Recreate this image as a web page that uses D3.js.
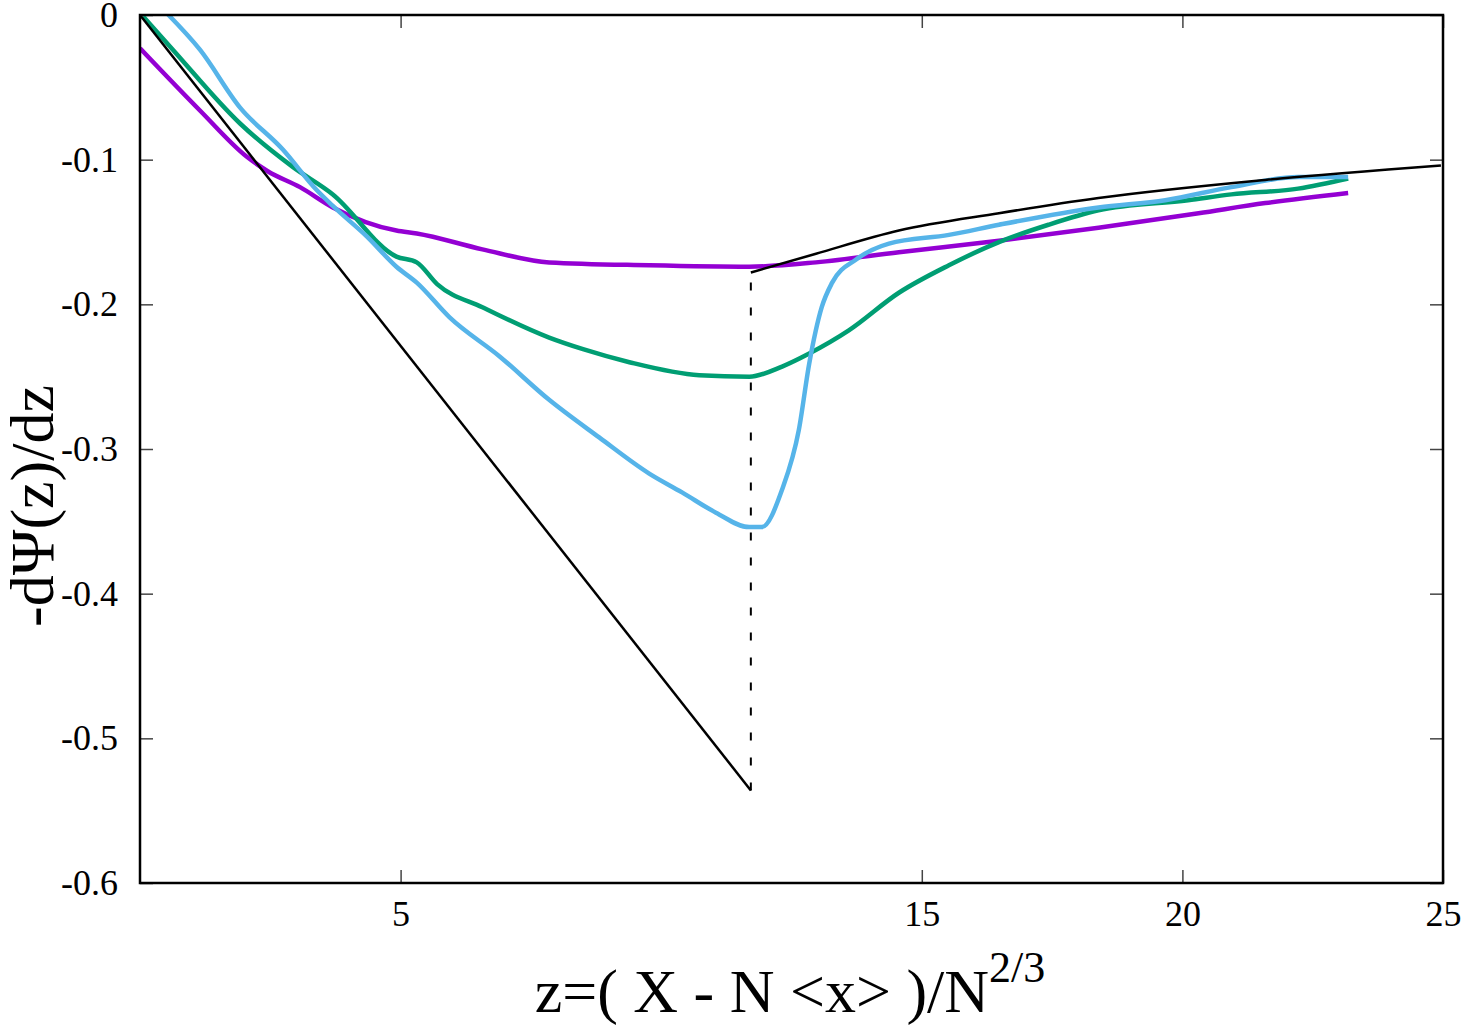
<!DOCTYPE html>
<html>
<head>
<meta charset="utf-8">
<script src="https://cdn.jsdelivr.net/npm/d3@7"></script>
<style>
  body { margin: 0; background: #fff; }
</style>
</head>
<body>
<div id="chart"></div>
<script>
// tick values
const xTicks = [5, 15, 20, 25];
const yTicks = [0, -0.1, -0.2, -0.3, -0.4, -0.5, -0.6];

// purple series (z, -dPsi/dz)
const purpleZ = [0, 1.15, 2.05, 2.45, 3.07, 3.70, 4.92, 5.31, 6.57, 7.85, 9.77, 11.69, 12.97, 14.56, 16.48, 18.39, 20.31, 21.59, 23.18];
const purpleV = [-0.023, -0.066, -0.098, -0.108, -0.119, -0.133, -0.149, -0.151, -0.162, -0.171, -0.173, -0.174, -0.171, -0.164, -0.156, -0.147, -0.137, -0.130, -0.123];

// green series
const greenZ = [0.06, 0.63, 1.92, 2.93, 3.70, 4.92, 5.31, 5.70, 6.57, 7.85, 8.50, 9.39, 10.73, 11.69, 12.32, 12.84, 13.60, 14.56, 15.52, 16.48, 17.43, 18.39, 20.11, 20.94, 22.22, 23.18];
const greenV = [-0.001, -0.024, -0.075, -0.105, -0.124, -0.167, -0.171, -0.186, -0.202, -0.223, -0.231, -0.240, -0.249, -0.250, -0.243, -0.234, -0.218, -0.192, -0.173, -0.157, -0.145, -0.135, -0.128, -0.124, -0.120, -0.113];

// light blue series
const blueZ = [0.52, 1.15, 1.92, 2.74, 3.39, 3.70, 4.35, 4.92, 5.31, 5.94, 6.90, 7.85, 8.81, 9.77, 10.40, 11.05, 11.69, 11.93, 12.32, 12.64, 12.84, 13.08, 13.28, 13.74, 14.37, 15.52, 16.48, 18.39, 19.67, 20.94, 22.22, 23.18];
const blueV = [0.001, -0.024, -0.064, -0.093, -0.121, -0.132, -0.153, -0.174, -0.185, -0.209, -0.236, -0.266, -0.292, -0.317, -0.330, -0.344, -0.354, -0.354, -0.328, -0.287, -0.241, -0.202, -0.185, -0.169, -0.158, -0.152, -0.145, -0.133, -0.128, -0.119, -0.112, -0.112];

// black reference lines
const lineZ = [0, 11.72];
const lineV = [0, -0.536];
const curveZ = [11.72, 12.97, 14.56, 16.48, 18.39, 21.59, 24.96];
const curveV = [-0.178, -0.165, -0.149, -0.137, -0.1265, -0.114, -0.104];
const dashZ = [11.72, 11.72];
const dashV = [-0.536, -0.178];

const cfg = {
    width: 1463,
    height: 1025,
    margin: { top: 15, right: 20, bottom: 142, left: 140 },
    tickLen: 13,
    font: "'Liberation Serif', 'DejaVu Serif', serif"
};

const width = cfg.width - cfg.margin.left - cfg.margin.right;
const height = cfg.height - cfg.margin.top - cfg.margin.bottom;

const x = d3.scaleLinear().domain([0, 25]).range([0, width]);
const y = d3.scaleLinear().domain([-0.6, 0]).range([height, 0]);

const svg = d3.select("#chart")
    .append("svg")
    .attr("width", cfg.width)
    .attr("height", cfg.height);

const g = svg.append("g")
    .attr("transform", "translate(" + cfg.margin.left + "," + cfg.margin.top + ")");

g.append("clipPath").attr("id", "plot-clip")
    .append("rect").attr("width", width).attr("height", height);

// axes, ticks point inwards like gnuplot
const styleAxis = (sel) => {
    sel.attr("font-family", null).attr("font-size", null);
    sel.select(".domain").remove();
    sel.selectAll(".tick line").attr("stroke", "#444").attr("stroke-width", 1.5);
    sel.selectAll(".tick text").attr("fill", "#000").style("font-size", "36px");
};

const fmt = (d) => d === 0 ? "0" : String(d);

g.append("g")
    .attr("transform", "translate(0," + height + ")")
    .call(d3.axisBottom(x).tickValues(xTicks).tickSize(-cfg.tickLen).tickPadding(17).tickFormat(fmt))
    .call(styleAxis);

g.append("g")
    .call(d3.axisTop(x).tickValues(xTicks).tickSize(-cfg.tickLen).tickFormat(""))
    .call(styleAxis);

g.append("g")
    .call(d3.axisLeft(y).tickValues(yTicks).tickSize(-cfg.tickLen).tickPadding(22).tickFormat(fmt))
    .call(styleAxis);

g.append("g")
    .attr("transform", "translate(" + width + ",0)")
    .call(d3.axisRight(y).tickValues(yTicks).tickSize(-cfg.tickLen).tickFormat(""))
    .call(styleAxis);

// data lines
const line = d3.line()
    .x((d) => x(d[0]))
    .y((d) => y(d[1]))
    .curve(d3.curveMonotoneX);

const zip = (a, b) => a.map((v, i) => [v, b[i]]);

const plot = g.append("g").attr("clip-path", "url(#plot-clip)");

const series = [
    { z: purpleZ, v: purpleV, color: "#9400d3" },
    { z: greenZ, v: greenV, color: "#009e73" },
    { z: blueZ, v: blueV, color: "#56b4e9" }
];

series.forEach((s) => {
    plot.append("path")
        .datum(zip(s.z, s.v))
        .attr("fill", "none")
        .attr("stroke", s.color)
        .attr("stroke-width", 4.5)
        .attr("stroke-linejoin", "round")
        .attr("d", line);
});

plot.append("path")
    .datum(zip(lineZ, lineV))
    .attr("fill", "none")
    .attr("stroke", "#000")
    .attr("stroke-width", 2.5)
    .attr("d", line);

plot.append("path")
    .datum(zip(curveZ, curveV))
    .attr("fill", "none")
    .attr("stroke", "#000")
    .attr("stroke-width", 2.5)
    .attr("d", line);

plot.append("path")
    .datum(zip(dashZ, dashV))
    .attr("fill", "none")
    .attr("stroke", "#000")
    .attr("stroke-width", 2)
    .attr("stroke-dasharray", "8,17")
    .attr("d", line);

// frame
g.append("rect")
    .attr("width", width)
    .attr("height", height)
    .attr("fill", "none")
    .attr("stroke", "#000")
    .attr("stroke-width", 2.5);

// axis labels
const xLabel = svg.append("text")
    .attr("x", 790)
    .attr("y", 1012)
    .attr("text-anchor", "middle")
    .style("font-size", "62px");
xLabel.append("tspan").text("z=( X - N <x> )/N");
xLabel.append("tspan").attr("dy", -30).style("font-size", "44px").text("2/3");

svg.append("text")
    .attr("transform", "translate(53,506) rotate(-90)")
    .attr("text-anchor", "middle")
    .style("font-size", "62px")
    .text("-dΨ(z)/dz");

svg.selectAll("text").style("font-family", cfg.font);
</script>
</body>
</html>
